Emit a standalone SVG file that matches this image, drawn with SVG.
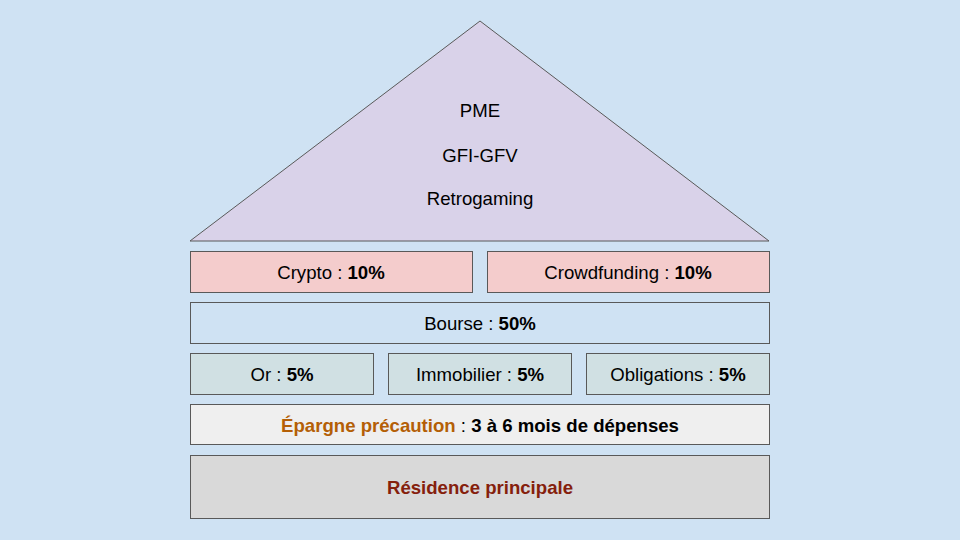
<svg xmlns="http://www.w3.org/2000/svg" width="960" height="540" viewBox="0 0 960 540">
<style>
.s{stroke:#595959;stroke-width:1}
.t{font-family:"Liberation Sans",Arial,sans-serif;font-size:18.6px;fill:#000;text-anchor:middle}
.b{font-weight:bold}
</style>
<rect width="960" height="540" fill="#cfe2f3"/>
<g id="roof">
<polygon class="s" points="480,21 769,241 190,241" fill="#d9d2e9"/>
<text class="t" x="480" y="117">PME</text>
<text class="t" x="480" y="162">GFI-GFV</text>
<text class="t" x="480" y="205">Retrogaming</text>
</g>
<g id="crypto">
<rect class="s" x="190.5" y="251.5" width="282" height="41" fill="#f4cccc"/>
<text class="t" x="331" y="279">Crypto : <tspan class="b">10%</tspan></text>
</g>
<g id="crowdfunding">
<rect class="s" x="487.5" y="251.5" width="282" height="41" fill="#f4cccc"/>
<text class="t" x="628" y="279">Crowdfunding : <tspan class="b">10%</tspan></text>
</g>
<g id="bourse">
<rect class="s" x="190.5" y="302.5" width="579" height="41" fill="#cfe2f3"/>
<text class="t" x="480" y="330">Bourse : <tspan class="b">50%</tspan></text>
</g>
<g id="or">
<rect class="s" x="190.5" y="353.5" width="183" height="41" fill="#d0e0e3"/>
<text class="t" x="282" y="381">Or : <tspan class="b">5%</tspan></text>
</g>
<g id="immobilier">
<rect class="s" x="388.5" y="353.5" width="183" height="41" fill="#d0e0e3"/>
<text class="t" x="480" y="381">Immobilier : <tspan class="b">5%</tspan></text>
</g>
<g id="obligations">
<rect class="s" x="586.5" y="353.5" width="183" height="41" fill="#d0e0e3"/>
<text class="t" x="678" y="381">Obligations : <tspan class="b">5%</tspan></text>
</g>
<g id="epargne">
<rect class="s" x="190.5" y="404.5" width="579" height="40" fill="#efefef"/>
<text class="t" x="480" y="432"><tspan class="b" fill="#b45f06">Épargne précaution</tspan> : <tspan class="b">3 à 6 mois de dépenses</tspan></text>
</g>
<g id="residence">
<rect class="s" x="190.5" y="455.5" width="579" height="63" fill="#d9d9d9"/>
<text class="t b" x="480" y="494" style="fill:#85200c">Résidence principale</text>
</g>
<g id="connectors"/>
</svg>
